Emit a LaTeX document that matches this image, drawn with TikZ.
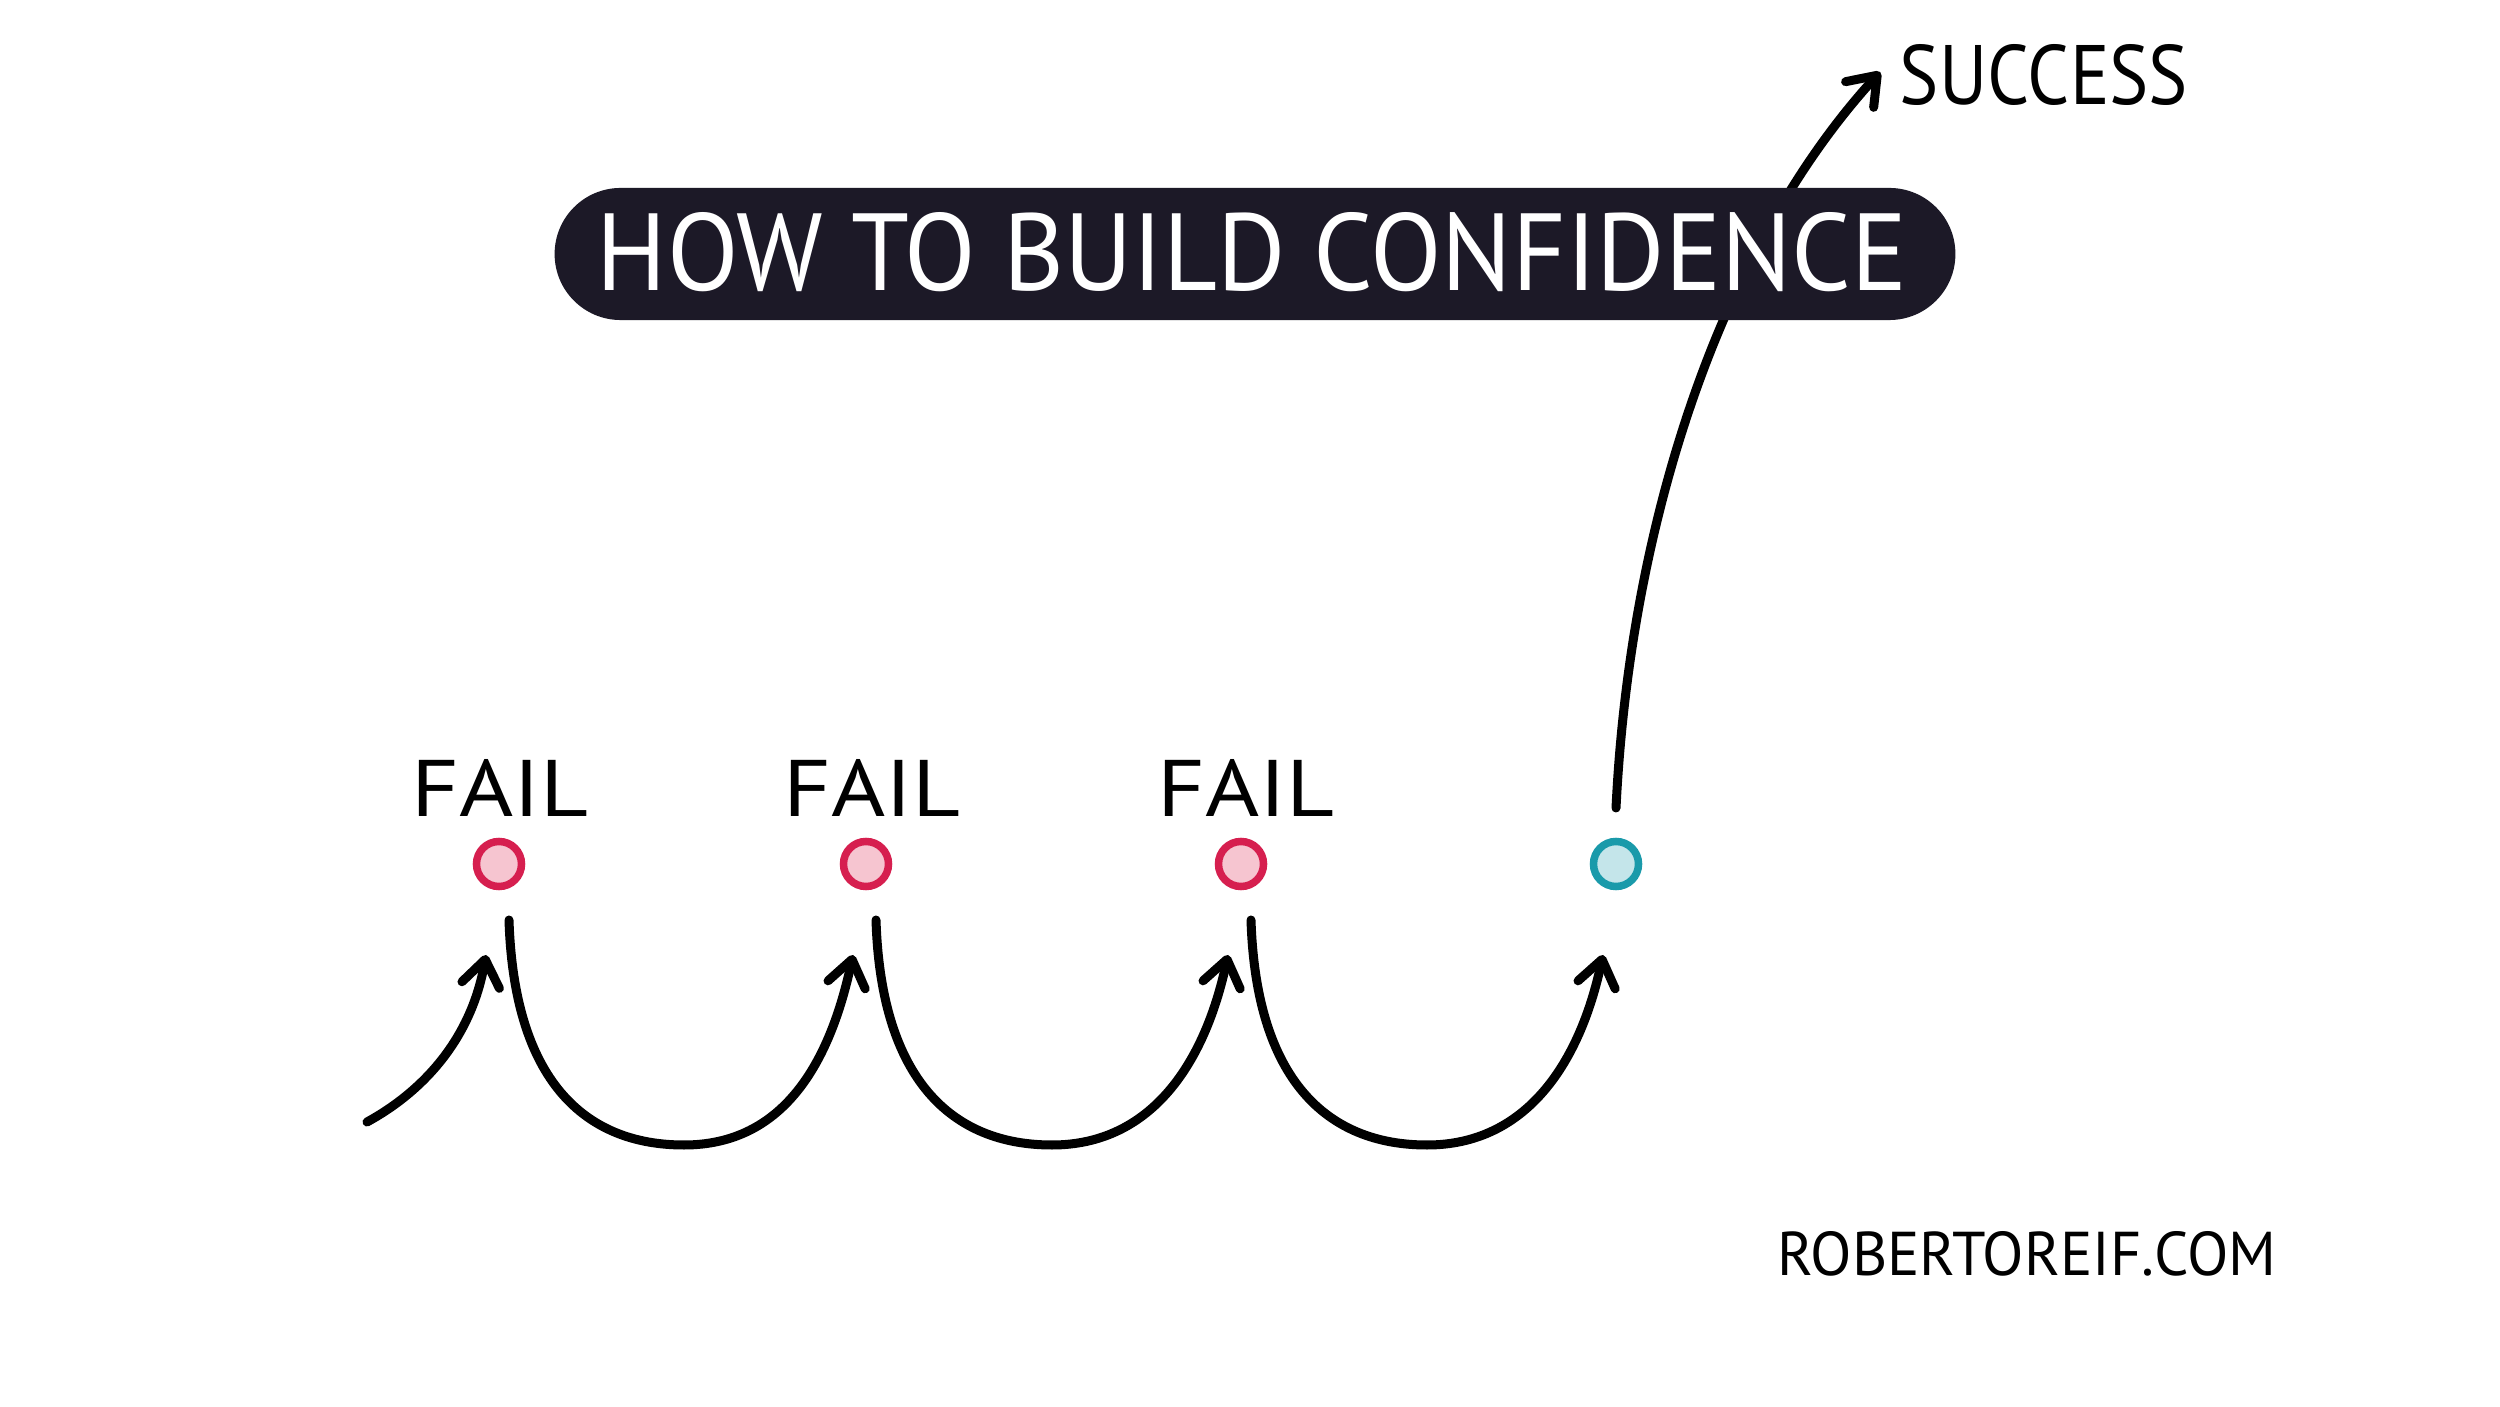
\documentclass[tikz,border=0pt]{standalone}
\usepackage{fontspec}
\setmainfont{PT Sans}
\usepackage{graphicx}
\usetikzlibrary{arrows.meta}
\definecolor{titlebg}{HTML}{1C1927}
\definecolor{failedge}{HTML}{D61F4F}
\definecolor{failfill}{HTML}{F6C5D0}
\definecolor{winedge}{HTML}{1A9AAA}
\definecolor{winfill}{HTML}{C4E5EA}
\tikzset{
  dot/.style={circle, minimum size=0.45cm, inner sep=0pt, line width=0.075cm},
  faildot/.style={dot, draw=failedge, fill=failfill},
  windot/.style={dot, draw=winedge, fill=winfill},
  arr/.style={line width=0.09cm, line cap=round, line join=round,
    -{Straight Barb[length=0.26cm,width=0.38cm,round]}},
  lbl/.style={inner sep=0pt, anchor=center},
}
\begin{document}
\begin{tikzpicture}[x=0.01cm, y=-0.01cm]
\useasboundingbox[fill=white] (0,0) rectangle (2500,1407);

% state dots
\node[faildot] (c1) at (499,864) {};
\node[faildot] (c2) at (866,864) {};
\node[faildot] (c3) at (1241,864) {};
\node[windot]  (c4) at (1616,864) {};

% labels
\node[lbl] (f1) at (500,788) {\resizebox{1.77cm}{0.57cm}{FAIL}};
\node[lbl] (f2) at (872,788) {\resizebox{1.77cm}{0.57cm}{FAIL}};
\node[lbl] (f3) at (1246,788) {\resizebox{1.77cm}{0.57cm}{FAIL}};
\node[lbl] (succ) at (2044,75) {\resizebox{2.88cm}{0.60cm}{SUCCESS}};
\node[lbl] (site) at (2027,1254) {\resizebox{4.99cm}{0.44cm}{ROBERTOREIF.COM}};

% entry arrow
\coordinate (s0) at (367,1122);
\draw[arr] (s0) .. controls +(55,-30) and +(-15,85) .. ([shift={(-13,91)}]c1.center);

% hops
\draw[arr] ([shift={(10,56)}]c1.center) .. controls +(5,160) and +(-100,0) .. (684,1145)
  .. controls +(100,0) and +(-23,107) .. ([shift={(-13,91)}]c2.center);
\draw[arr] ([shift={(10,56)}]c2.center) .. controls +(5,160) and +(-100,0) .. (1052,1145)
  .. controls +(100,0) and +(-23,107) .. ([shift={(-13,91)}]c3.center);
\draw[arr] ([shift={(10,56)}]c3.center) .. controls +(5,160) and +(-100,0) .. (1427,1145)
  .. controls +(100,0) and +(-23,107) .. ([shift={(-13,91)}]c4.center);

% success arrow (behind title)
\draw[arr] ([shift={(0,-56)}]c4.center) .. controls (1630,520) and (1722,245) .. ([shift={(-19,-3)}]succ.west);

% title
\node[fill=titlebg, rounded corners=0.66cm, minimum width=14cm, minimum height=1.32cm, inner sep=0pt] (title) at (1255,254) {};
\node[lbl, text=white] (ttext) at (1252,252) {\resizebox{13.09cm}{0.78cm}{HOW TO BUILD CONFIDENCE}};
\end{tikzpicture}
\end{document}
